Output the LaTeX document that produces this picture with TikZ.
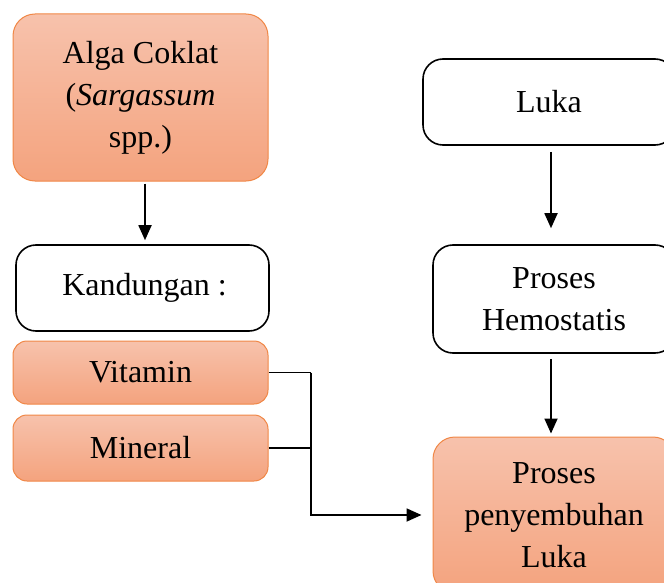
\documentclass[tikz,border=0pt]{standalone}
\usepackage{fontspec}
\setmainfont{Liberation Serif}
\usetikzlibrary{arrows.meta,calc}
\definecolor{orfillTop}{RGB}{247,194,172}
\definecolor{orfillBot}{RGB}{244,163,126}
\definecolor{orborder}{RGB}{240,135,70}
\begin{document}
\begin{tikzpicture}[x=1pt,y=-1pt,
  obox/.style={draw=orborder, line width=1pt, rounded corners=22pt, top color=orfillTop, bottom color=orfillBot, inner sep=0pt, minimum width=#1},
  wbox/.style={draw=black, line width=1.6pt, fill=white, rounded corners=20pt, inner sep=0pt, minimum width=#1},
  lbl/.style={font=\fontsize{32}{42}\selectfont, align=center},
  arr/.style={line width=1.8pt, -{Triangle[length=15pt,width=13pt]}},
  con/.style={line width=1.8pt}]
\useasboundingbox (0,0) rectangle (664,583);
\begin{scope}
\clip (0,0) rectangle (664,583);
\node[obox=255pt, minimum height=167pt, lbl] (alga) at (140.5,97.5) {Alga Coklat\\(\textit{Sargassum}\\spp.)};
\node[wbox=253pt, minimum height=86pt, lbl] (kand) at (142.5,288) {\hspace*{4pt}Kandungan :};
\node[obox=255pt, minimum height=63pt, rounded corners=14pt, lbl] (vit) at (140.5,372.5) {Vitamin};
\node[obox=255pt, minimum height=66pt, rounded corners=14pt, lbl] (min) at (140.5,448) {Mineral};
\node[wbox=252pt, minimum height=86pt, lbl] (luka) at (549,102) {Luka};
\node[wbox=242pt, minimum height=108pt, lbl] (hemo) at (554,299) {Proses\\Hemostatis};
\node[obox=242pt, minimum height=156pt, lbl] (proses) at (554,515) {Proses\\penyembuhan\\Luka};

\coordinate (j) at (311,372.5);
\draw[arr, shorten <=2pt, shorten >=4pt] ([xshift=4.5pt]alga.south) -- ([xshift=2.5pt]kand.north);
\draw[arr, shorten <=6pt, shorten >=16pt] ([xshift=2pt]luka.south) -- ([xshift=-3pt]hemo.north);
\draw[arr, shorten <=5pt, shorten >=3pt] ([xshift=-3pt]hemo.south) -- ([xshift=-3pt]proses.north);
\draw[con] (vit.east) -- (j);
\draw[con] (min.east) -- (min.east -| j);
\draw[arr, shorten >=11pt] (j) |- (proses.west);
\end{scope}
\end{tikzpicture}
\end{document}
